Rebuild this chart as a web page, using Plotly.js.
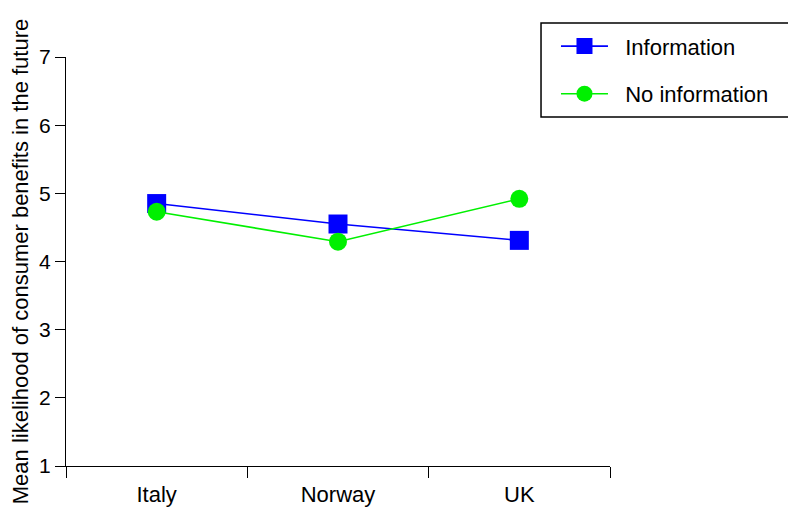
<!DOCTYPE html>
<html>
<head>
<meta charset="utf-8">
<script src="https://cdn.plot.ly/plotly-3.0.1.min.js"></script>
<style>html,body{margin:0;padding:0;background:#fff;}#chart{width:788px;height:514px;}</style>
</head>
<body>
<div id="chart"></div>
<script>
const countries = ["Italy", "Norway", "UK"];
const informationValues = [4.85, 4.55, 4.31];
const noInformationValues = [4.73, 4.29, 4.92];
const yTickValues = [1, 2, 3, 4, 5, 6, 7];
const seriesNames = ["Information", "No information"];

const fontFamily = "Liberation Sans, Arial, sans-serif";
const pad = "\u00a0\u00a0";

const traces = [
  {
    x: countries, y: informationValues, name: pad + seriesNames[0],
    type: "scatter", mode: "lines+markers",
    line: {color: "#0000ff", width: 1.6},
    marker: {symbol: "square", size: 19, color: "#0000ff"},
    legendgroup: "a"
  },
  {
    x: countries, y: noInformationValues, name: pad + seriesNames[1],
    type: "scatter", mode: "lines+markers",
    line: {color: "#00f000", width: 1.6},
    marker: {symbol: "circle", size: 18, color: "#00f000"},
    legendgroup: "b"
  }
];

const layout = {
  width: 788, height: 514,
  margin: {l: 66, r: 178, t: 57, b: 48},
  paper_bgcolor: "#fff", plot_bgcolor: "#fff",
  font: {family: fontFamily, size: 22, color: "#000"},
  showlegend: true,
  legend: {
    x: 0.9007, y: 1.0775, xanchor: "left", yanchor: "top",
    borderwidth: 0, bgcolor: "rgba(0,0,0,0)",
    font: {family: fontFamily, size: 22, color: "#000"},
    traceorder: "grouped", tracegroupgap: 16,
    itemwidth: 47
  },
  shapes: [{
    type: "rect", xref: "paper", yref: "paper",
    x0: 0.8732, x1: 1.35, y0: 0.8533, y1: 1.0831,
    line: {color: "#000", width: 1.5}, fillcolor: "rgba(0,0,0,0)", layer: "below"
  }],
  xaxis: {
    type: "category", range: [-0.5, 2.5],
    showline: true, linecolor: "#000", linewidth: 1,
    showgrid: false, zeroline: false,
    ticks: "outside", tickson: "boundaries", ticklen: 11, tickcolor: "#000", tickwidth: 1,
    ticklabelstandoff: 9,
    tickfont: {family: fontFamily, size: 22, color: "#000"}
  },
  yaxis: {
    range: [1, 7], tickvals: yTickValues, ticktext: yTickValues.map(String),
    showline: true, linecolor: "#000", linewidth: 1,
    showgrid: false, zeroline: false,
    ticks: "outside", ticklen: 10, tickcolor: "#000", tickwidth: 1,
    tickfont: {family: fontFamily, size: 21, color: "#000"},
    title: {text: "Mean likelihood of consumer benefits in the future", font: {family: fontFamily, size: 22, color: "#000"}, standoff: 4}
  }
};

Plotly.newPlot("chart", traces, layout, {displayModeBar: false, staticPlot: true});
</script>
</body>
</html>
